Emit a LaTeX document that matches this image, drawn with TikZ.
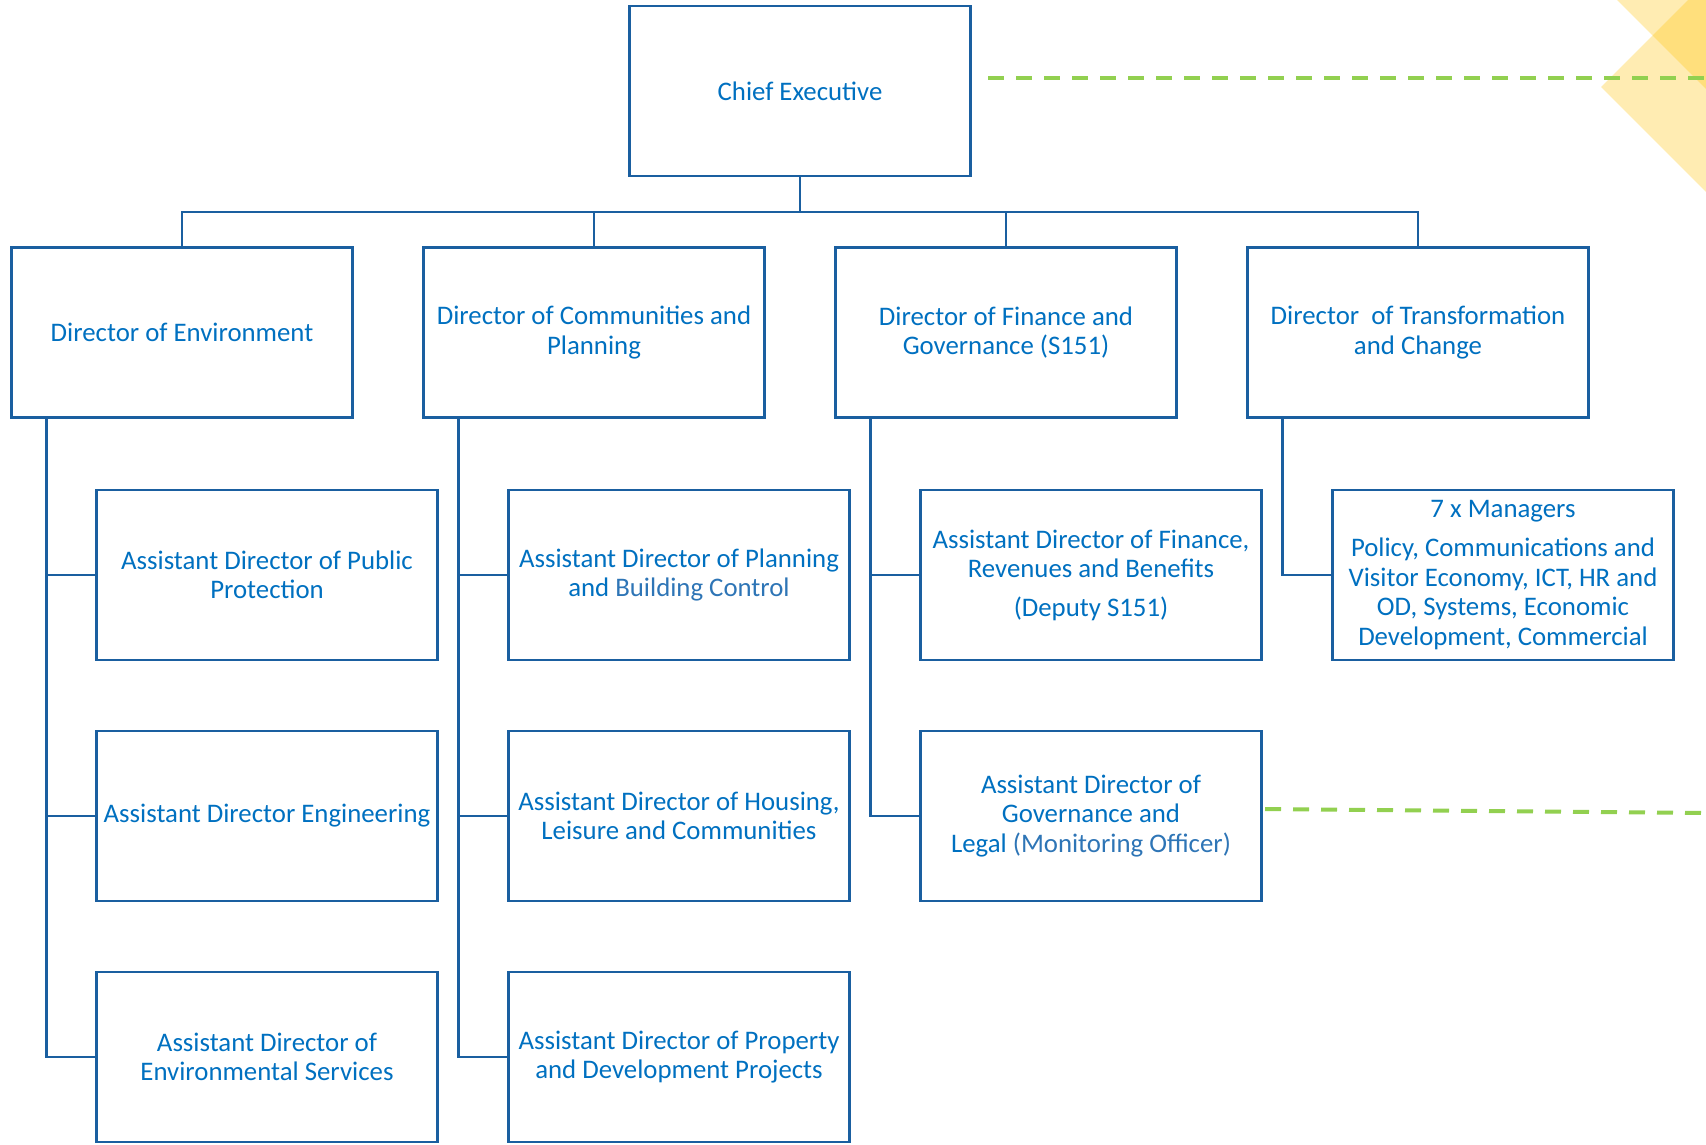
\documentclass[tikz,border=0pt]{standalone}
\usepackage{fontspec}
\setmainfont{Carlito}
\definecolor{txtblue}{HTML}{0070C0}
\definecolor{lightblue}{HTML}{2E75B6}
\definecolor{boxblue}{HTML}{1A5FA0}
\definecolor{dashgreen}{HTML}{92D050}
\definecolor{goldy}{HTML}{FFC000}
\begin{document}
\begin{tikzpicture}[x=1pt,y=-1pt,
  box/.style={draw=boxblue, line width=2.5pt, minimum width=341pt, minimum height=170pt,
    inner sep=0pt, align=center, text=txtblue, font=\fontsize{26.8}{29.5}\selectfont},
  conn/.style={draw=boxblue, line width=2.8pt},
  greendash/.style={draw=dashgreen, line width=4pt, dash pattern=on 16pt off 12pt}]
\useasboundingbox (0,0) rectangle (1706,1144);
% yellow decorative squares
\fill[goldy, opacity=0.3] (1601,87) -- (1688,0) -- (1706,0) -- (1706,192) -- cycle;
\fill[goldy, opacity=0.3] (1617,0) -- (1706,0) -- (1706,89) -- cycle;
% top level
\node[box] (ce) at (800,91) {Chief Executive};
% directors
\node[box] (de) at (182,332.5) {Director of Environment};
\node[box] (dc) at (594,332.5) {Director of Communities and\\Planning};
\node[box] (df) at (1006,332.5) {Director of Finance and\\Governance (S151)};
\node[box] (dt) at (1418,332.5) {Director\ \ of Transformation\\and Change};
% assistants
\node[box] (a11) at (267,575) {Assistant Director of Public\\Protection};
\node[box] (a12) at (267,816) {Assistant Director Engineering};
\node[box] (a13) at (267,1057) {Assistant Director of\\Environmental Services};
\node[box] (a21) at (679,575) {Assistant Director of Planning\\and \textcolor{lightblue}{Building Control}};
\node[box] (a22) at (679,816) {Assistant Director of Housing,\\Leisure and Communities};
\node[box] (a23) at (679,1057) {Assistant Director of Property\\and Development Projects};
\node[box] (a31) at (1091,575) {Assistant Director of Finance,\\Revenues and Benefits\\[9pt](Deputy S151)};
\node[box] (a32) at (1091,816) {Assistant Director of\\Governance and\\Legal \textcolor{lightblue}{(Monitoring Officer)}};
\node[box] (a41) at (1503,575) {7 x Managers\\[10pt]Policy, Communications and\\Visitor Economy, ICT, HR and\\OD, Systems, Economic\\Development, Commercial};
% bus
\coordinate (bus) at (800,212);
\draw[conn] (ce.south) -- (bus);
\draw[conn] (bus) -| (de.north);
\draw[conn] (bus) -| (dc.north);
\draw[conn] (bus) -| (df.north);
\draw[conn] (bus) -| (dt.north);
% director to assistants
\draw[conn] ([xshift=36pt]de.south west) |- (a11.west);
\draw[conn] ([xshift=36pt]de.south west) |- (a12.west);
\draw[conn] ([xshift=36pt]de.south west) |- (a13.west);
\draw[conn] ([xshift=36pt]dc.south west) |- (a21.west);
\draw[conn] ([xshift=36pt]dc.south west) |- (a22.west);
\draw[conn] ([xshift=36pt]dc.south west) |- (a23.west);
\draw[conn] ([xshift=36pt]df.south west) |- (a31.west);
\draw[conn] ([xshift=36pt]df.south west) |- (a32.west);
\draw[conn] ([xshift=36pt]dt.south west) |- (a41.west);
% green dashed lines
\coordinate (g1s) at (988,78);
\coordinate (g1e) at (1706,78);
\coordinate (g2s) at (1265,809);
\coordinate (g2e) at (1706,813);
\draw[greendash] (g1s) -- (g1e);
\draw[greendash] (g2s) -- (g2e);
\end{tikzpicture}
\end{document}
